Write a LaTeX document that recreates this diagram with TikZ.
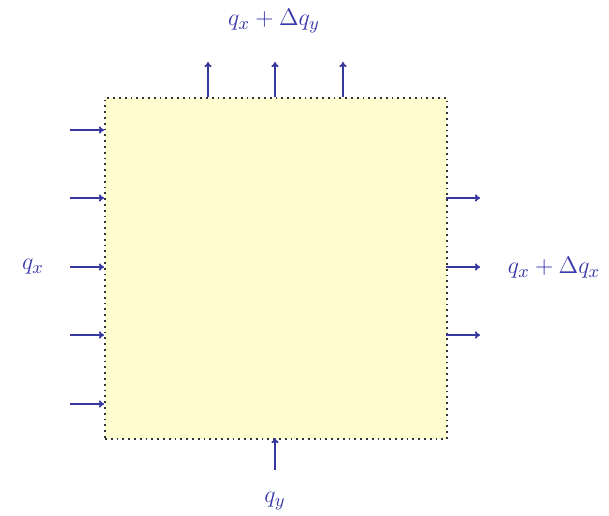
\documentclass[tikz,border=0pt]{standalone}
\usetikzlibrary{arrows.meta}
\definecolor{flux}{RGB}{55,55,160}
\definecolor{labc}{RGB}{55,55,170}
\definecolor{cellfill}{RGB}{255,252,208}
\begin{document}
\begin{tikzpicture}[x=0.5pt,y=-0.5pt,
  fluxarrow/.style={draw=flux,line width=0.9pt,-{To[length=2.6pt,width=3.6pt]}},
  lab/.style={text=labc,font=\fontsize{13}{15}\selectfont}]
\useasboundingbox (0,0) rectangle (609,515);
\node[draw=black!80,dotted,line width=0.9pt,fill=cellfill,minimum width=171pt,minimum height=170.5pt,inner sep=0pt,anchor=north west] (cell) at (104,97) {};
% left inflow
\foreach \i/\y in {1/130,2/198,3/267,4/335,5/404}{
  \coordinate (l\i) at (70,\y);
  \coordinate (le\i) at (104,\y);
  \draw[fluxarrow] (l\i) -- (le\i);
}
% right outflow
\foreach \i/\y in {1/198,2/267,3/335}{
  \coordinate (rs\i) at (446,\y);
  \coordinate (r\i) at (480,\y);
  \draw[fluxarrow] (rs\i) -- (r\i);
}
% top outflow
\foreach \i/\x in {1/208,2/275,3/343}{
  \coordinate (ts\i) at (\x,97);
  \coordinate (t\i) at (\x,62);
  \draw[fluxarrow] (ts\i) -- (t\i);
}
% bottom inflow
\coordinate (b1) at (275,470);
\coordinate (be1) at (275,438);
\draw[fluxarrow] (b1) -- (be1);
\node[lab] (qx) at (33,267) {$q_x$};
\node[lab] (qxr) at (554,268) {$q_x+\Delta q_x$};
\node[lab] (qyt) at (274,21) {$q_x+\Delta q_y$};
\node[lab] (qy) at (275,501) {$q_y$};
\end{tikzpicture}
\end{document}
